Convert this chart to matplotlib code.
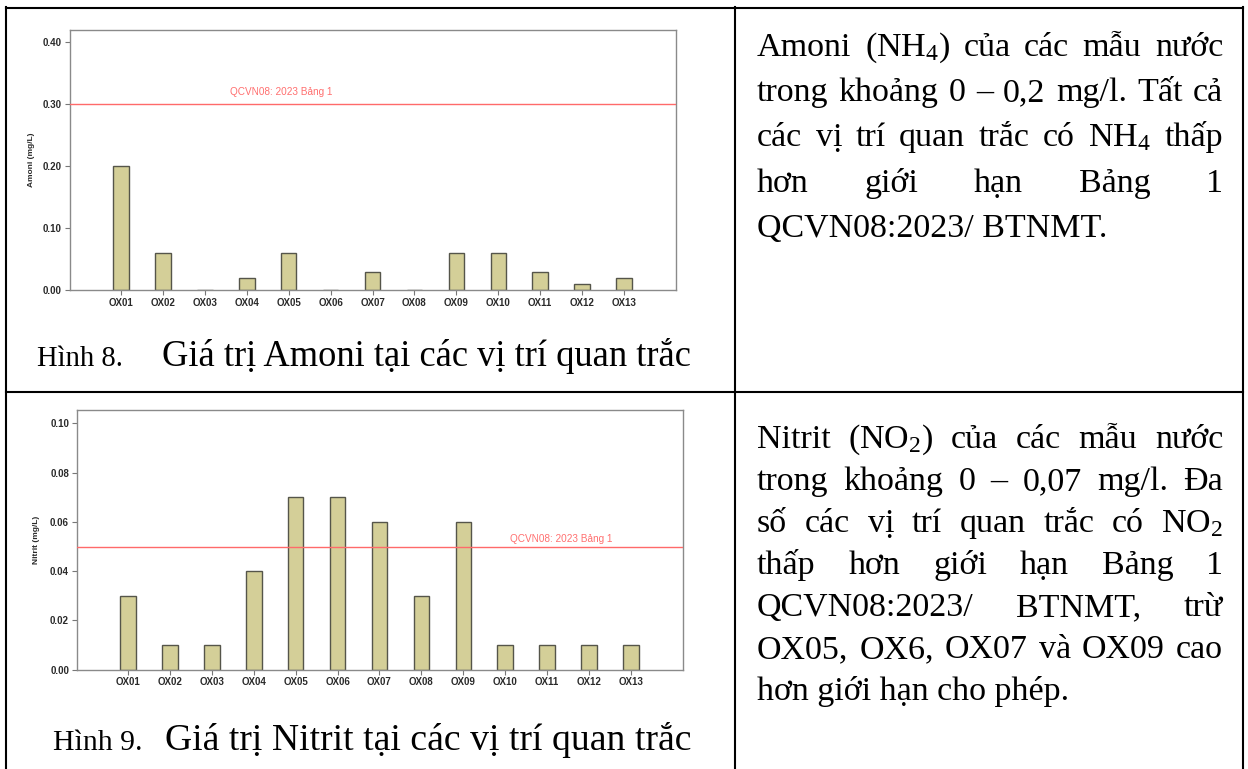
import matplotlib
matplotlib.use('Agg')
import matplotlib.pyplot as plt
import numpy as np

plt.rcParams['mathtext.fontset'] = 'custom'
plt.rcParams['mathtext.rm'] = 'Liberation Serif'
plt.rcParams['mathtext.it'] = 'Liberation Serif:italic'

# data
sites = ['OX01', 'OX02', 'OX03', 'OX04', 'OX05', 'OX06', 'OX07',
         'OX08', 'OX09', 'OX10', 'OX11', 'OX12', 'OX13']
amoni = [0.20, 0.06, 0.0, 0.02, 0.06, 0.0, 0.03, 0.0, 0.06, 0.06, 0.03, 0.01, 0.02]
nitrit = [0.03, 0.01, 0.01, 0.04, 0.07, 0.07, 0.06, 0.03, 0.06, 0.01, 0.01, 0.01, 0.01]
amoni_limit = 0.30
nitrit_limit = 0.05
amoni_ticks = [0.0, 0.1, 0.2, 0.3, 0.4]
nitrit_ticks = [0.0, 0.02, 0.04, 0.06, 0.08, 0.10]
limit_label = 'QCVN08: 2023 Bảng 1'

text_amoni = ['Amoni (NH$_\\mathrm{4}$) của các mẫu nước',
              'trong khoảng 0 – 0,2 mg/l. Tất cả',
              'các vị trí quan trắc có NH$_\\mathrm{4}$ thấp',
              'hơn giới hạn Bảng 1',
              'QCVN08:2023/ BTNMT.']
text_nitrit = ['Nitrit (NO$_\\mathrm{2}$) của các mẫu nước',
               'trong khoảng 0 – 0,07 mg/l. Đa',
               'số các vị trí quan trắc có NO$_\\mathrm{2}$',
               'thấp hơn giới hạn Bảng 1',
               'QCVN08:2023/ BTNMT, trừ',
               'OX05, OX6, OX07 và OX09 cao',
               'hơn giới hạn cho phép.']

W, H = 1248, 769
fig = plt.figure(figsize=(W / 100, H / 100), dpi=100)

# background layer in pixel coordinates for the table and the text
bg = fig.add_axes([0, 0, 1, 1])
bg.set_xlim(0, W)
bg.set_ylim(H, 0)
bg.axis('off')

lw = 1.5
bg.plot([6, 1243], [7.5, 7.5], color='black', lw=lw)
bg.plot([6, 1243], [392, 392], color='black', lw=lw)
for xv in [6, 735, 1243]:
    bg.plot([xv, xv], [7, H], color='black', lw=lw)

renderer = fig.canvas.get_renderer()
serif = 'Liberation Serif'


def justified(lines, x0, x1, y0, step, size):
    for i, line in enumerate(lines):
        y = y0 + i * step
        if i == len(lines) - 1:
            bg.text(x0, y, line, family=serif, fontsize=size, va='baseline', ha='left')
            continue
        words = line.split(' ')
        objs = [bg.text(x0, y, w, family=serif, fontsize=size, va='baseline', ha='left') for w in words]
        widths = [o.get_window_extent(renderer).width for o in objs]
        gap = (x1 - x0 - sum(widths)) / (len(words) - 1)
        x = x0
        for o, w in zip(objs, widths):
            o.set_x(x)
            x += w + gap


justified(text_amoni, 757, 1223, 56, 45.2, 24.5)
justified(text_nitrit, 757, 1223, 448, 42, 24.5)

# figure captions
bg.text(37, 366, 'Hình 8.', family=serif, fontsize=20.6, va='baseline')
bg.text(162, 366, 'Giá trị Amoni tại các vị trí quan trắc', family=serif, fontsize=26.3, va='baseline')
bg.text(53, 750, 'Hình 9.', family=serif, fontsize=21.4, va='baseline')
bg.text(165, 750, 'Giá trị Nitrit tại các vị trí quan trắc', family=serif, fontsize=27.2, va='baseline')


def bar_chart(rect, values, limit, ylim, yticks, ylabel, ylab_x, lab_x, lab_off):
    ax = fig.add_axes(rect)
    x = np.arange(len(sites))
    ax.bar(x, values, width=0.37, color='#d4cf98', edgecolor='#55554a', linewidth=1.0, zorder=2)
    ax.axhline(limit, color='#ff6a6a', lw=1.0, zorder=3)
    ax.annotate(limit_label, (lab_x, limit), xytext=(0, lab_off), textcoords='offset points',
                ha='center', va='bottom', color='#ff6f6f', fontsize=7.2, family='Liberation Sans')
    ax.set_xlim(-1.23, 13.24)
    ax.set_ylim(*ylim)
    ax.set_xticks(x)
    ax.set_xticklabels(sites)
    ax.set_yticks(yticks)
    ax.set_yticklabels(['{:.2f}'.format(v) for v in yticks])
    for lab in ax.get_xticklabels() + ax.get_yticklabels():
        lab.set_family('Liberation Sans')
        lab.set_fontweight('bold')
        lab.set_fontsize(7)
        lab.set_color('#2a2a2a')
    ax.tick_params(length=3.5, width=0.8, color='#777777', pad=2)
    for s in ax.spines.values():
        s.set_color('#8a8a8a')
        s.set_linewidth(1.0)
    ax.text(ylab_x, 0.5, ylabel, transform=ax.transAxes, rotation=90, ha='center', va='center',
            fontsize=6, fontweight='bold', family='Liberation Sans', color='#2a2a2a')
    return ax


bar_chart([69.5 / W, 1 - 290.3 / H, 606.5 / W, 260.3 / H], amoni, amoni_limit,
          (0, 0.42), amoni_ticks, 'Amoni (mg/L)', -0.062, 3.83, 5.5)
bar_chart([76.7 / W, 1 - 669.7 / H, 606 / W, 259.7 / H], nitrit, nitrit_limit,
          (0, 0.1054), nitrit_ticks, 'Nitrit (mg/L)', -0.067, 10.33, 2)

fig.savefig('out.png', dpi=100)
